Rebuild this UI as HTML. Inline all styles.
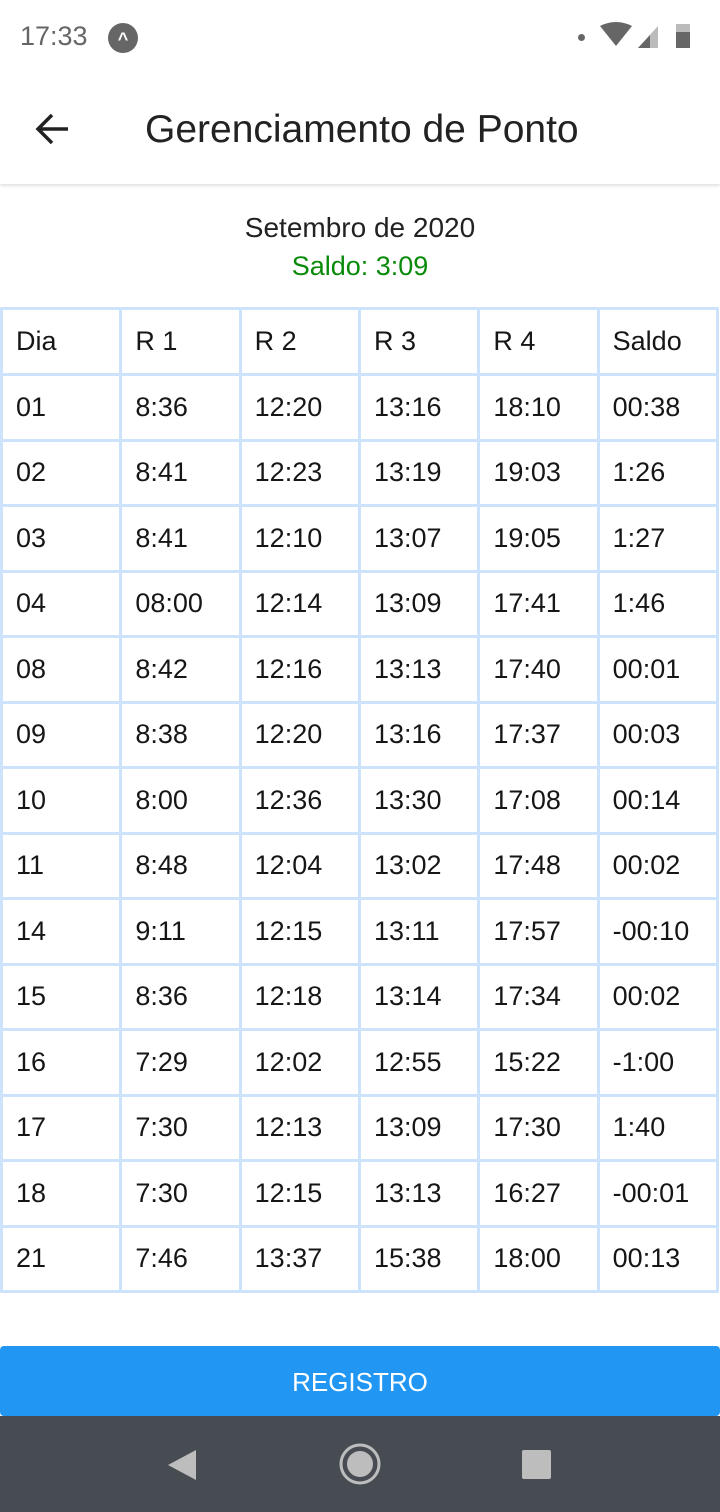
<!DOCTYPE html>
<html><head><meta charset="utf-8">
<style>
*{margin:0;padding:0;box-sizing:border-box}
body{width:720px;height:1512px;background:#fff;font-family:"Liberation Sans",sans-serif;position:relative;overflow:hidden}
.abs{position:absolute}
#grid{position:absolute;left:0;top:307px;width:719px;height:986px;background:#cce3fb;padding:3px;display:grid;grid-template-columns:repeat(6,1fr);grid-template-rows:63px repeat(14,1fr);gap:3px}
.cell{background:#fff;font-size:27px;color:#161616;display:flex;align-items:center;padding-left:13px}
</style></head><body>
<div class="abs" style="left:0;top:0;width:720px;height:72px">
 <div class="abs" style="left:20px;top:21px;font-size:27px;color:#666">17:33</div>
 <div class="abs" style="left:108px;top:23px;width:30px;height:30px;border-radius:50%;background:#666;color:#fff;font-size:18px;text-align:center;line-height:32px;font-weight:bold">^</div>
 <div class="abs" style="left:578px;top:34px;width:7px;height:7px;border-radius:50%;background:#666"></div>
 <svg class="abs" style="left:598px;top:22px" width="100" height="28"><path d="M2 4 Q18 -4 34 4 L18 24 Z" fill="#666"/><path d="M40 26 L60 4 L60 26 Z" fill="#bbb"/><path d="M40 26 L52 13 L52 26 Z" fill="#666"/><rect x="78" y="2" width="14" height="24" fill="#bbb"/><rect x="78" y="10" width="14" height="16" fill="#666"/></svg>
</div>
<div class="abs" style="left:0;top:72px;width:720px;height:112px;box-shadow:0 2px 3px rgba(0,0,0,0.12)">
 <svg class="abs" style="left:34px;top:40px" width="36" height="34"><path d="M4 17 H34 M18 3 L4 17 L18 31" stroke="#222" stroke-width="3.5" fill="none"/></svg>
 <div class="abs" style="left:145px;top:36px;font-size:39px;color:#222">Gerenciamento de Ponto</div>
</div>
<div class="abs" style="left:0;top:212px;width:720px;text-align:center;font-size:28px;color:#222">Setembro de 2020</div>
<div class="abs" style="left:0;top:251px;width:720px;text-align:center;font-size:27px;color:#0a8a0a">Saldo: 3:09</div>
<div id="grid"></div>
<div class="abs" style="left:0;top:1346px;width:720px;height:70px;background:#2196f3;border-radius:4px;color:#fff;font-size:26px;text-align:center;line-height:72px">REGISTRO</div>
<div class="abs" style="left:0;top:1416px;width:720px;height:96px;background:#474c52">
 <svg class="abs" style="left:166px;top:32px" width="32" height="34"><path d="M30 2 L2 17 L30 32 Z" fill="#bdbdbd"/></svg>
 <svg class="abs" style="left:338px;top:26px" width="44" height="44"><circle cx="22" cy="22" r="19" stroke="#bdbdbd" stroke-width="3" fill="none"/><circle cx="22" cy="22" r="13" fill="#bdbdbd"/></svg>
 <div class="abs" style="left:522px;top:34px;width:29px;height:29px;background:#bdbdbd;border-radius:2px"></div>
</div>
<script>
const headers=["Dia","R 1","R 2","R 3","R 4","Saldo"];
const days=["01","02","03","04","08","09","10","11","14","15","16","17","18","21"];
const r1=["8:36","8:41","8:41","08:00","8:42","8:38","8:00","8:48","9:11","8:36","7:29","7:30","7:30","7:46"];
const r2=["12:20","12:23","12:10","12:14","12:16","12:20","12:36","12:04","12:15","12:18","12:02","12:13","12:15","13:37"];
const r3=["13:16","13:19","13:07","13:09","13:13","13:16","13:30","13:02","13:11","13:14","12:55","13:09","13:13","15:38"];
const r4=["18:10","19:03","19:05","17:41","17:40","17:37","17:08","17:48","17:57","17:34","15:22","17:30","16:27","18:00"];
const saldo=["00:38","1:26","1:27","1:46","00:01","00:03","00:14","00:02","-00:10","00:02","-1:00","1:40","-00:01","00:13"];
const g=document.getElementById('grid');
headers.forEach(h=>{const c=document.createElement('div');c.className='cell';c.textContent=h;


g.appendChild(c);});
days.forEach((d,i)=>{[d,r1[i],r2[i],r3[i],r4[i],saldo[i]].forEach(v=>{const c=document.createElement('div');c.className='cell';c.textContent=v;


g.appendChild(c);});});
</script>
</body></html>
